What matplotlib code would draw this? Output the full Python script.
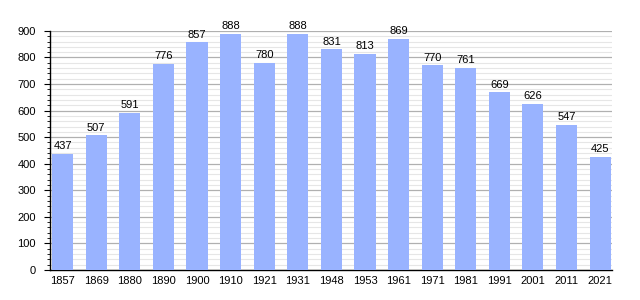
import matplotlib
matplotlib.use("Agg")
from matplotlib import pyplot as plt
from matplotlib.ticker import MultipleLocator

years = ["1857", "1869", "1880", "1890", "1900", "1910", "1921", "1931", "1948",
         "1953", "1961", "1971", "1981", "1991", "2001", "2011", "2021"]
population = [437, 507, 591, 776, 857, 888, 780, 888, 831,
              813, 869, 770, 761, 669, 626, 547, 425]

BAR_COLOR = "#99b3ff"
FONTSIZE = 8

plt.rcParams["font.family"] = ["Liberation Sans", "DejaVu Sans"]

fig = plt.figure(figsize=(6.4, 3.0), dpi=100)
ax = fig.add_axes([0.078, 0.1, 0.878, 0.797])

x = list(range(len(years)))
ax.bar(x, population, width=0.63, color=BAR_COLOR, zorder=3)

for xi, v in zip(x, population):
    ax.text(xi, v + 10, str(v), ha="center", va="bottom", fontsize=FONTSIZE, zorder=4)

ax.set_xlim(-0.38, len(years) - 1 + 0.35)
ax.set_ylim(0, 900)
ax.set_xticks(x)
ax.set_xticklabels(years)
ax.yaxis.set_major_locator(MultipleLocator(100))
ax.yaxis.set_minor_locator(MultipleLocator(20))

ax.grid(axis="y", which="major", color="#b0b0b0", linewidth=0.9, zorder=0)
ax.grid(axis="y", which="minor", color="#e6e6e6", linewidth=0.8, zorder=0)

ax.spines["top"].set_visible(False)
ax.spines["right"].set_visible(False)
ax.spines["left"].set_linewidth(1.0)
ax.spines["bottom"].set_linewidth(1.0)

ax.tick_params(axis="x", length=0, labelsize=FONTSIZE, pad=4)
ax.tick_params(axis="y", which="major", length=4, labelsize=FONTSIZE, pad=6)
ax.tick_params(axis="y", which="minor", length=2)

fig.savefig("out.png", dpi=100)
